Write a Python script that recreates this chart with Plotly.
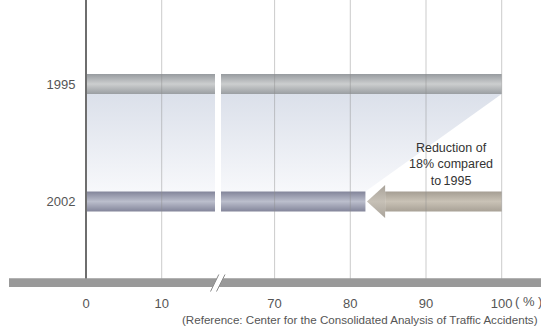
import plotly.graph_objects as go

# ---- data ----
years = ["1995", "2002"]
values = [100, 82]
left_ticks = [0, 10]
right_ticks = [70, 80, 90, 100]
annotation_text = "Reduction of<br>18% compared<br>to\u20091995"
source_text = "(Reference: Center for the Consolidated Analysis of Traffic Accidents)"

W, H = 541, 329
S = 7.57          # px per unit
X0PX = 86         # pixel of value 0
X100PX = 501.7    # pixel of value 100
PLOT_BOTTOM = 283
FONT = "Liberation Sans, Arial, sans-serif"

ypos = [1, 0]
unit = 117.5
y_top = 1 + 84 / unit
y_bot = -(PLOT_BOTTOM - 201.5) / unit
h = 10 / unit

left_range = [(10 - X0PX) / S, (215 - X0PX) / S]
right_range = [100 - (X100PX - 221) / S, 100 + (W - X100PX) / S]

bar_scales = [
    [[0, "#9a9ea2"], [0.5, "#cccecf"], [1, "#979b9f"]],
    [[0, "#83859a"], [0.5, "#bbbecc"], [1, "#828499"]],
]

fig = go.Figure()

for xa in ["x", "x2"]:
    # shaded reduction region between bars
    y1 = ypos[0] - h
    y2 = ypos[1] + h
    fig.add_trace(go.Scatter(
        x=[0, values[0], values[1], 0, 0],
        y=[y1, y1, y2, y2, y1],
        fill="toself", mode="lines", line=dict(width=0),
        fillgradient=dict(type="vertical",
                          colorscale=[[0, "#f7f8fb"], [1, "#dbe0ea"]]),
        xaxis=xa, yaxis="y", hoverinfo="skip", showlegend=False))
    # bars
    for i, (yr, v) in enumerate(zip(years, values)):
        yc = ypos[i]
        fig.add_trace(go.Scatter(
            x=[0, v, v, 0, 0],
            y=[yc - h, yc - h, yc + h, yc + h, yc - h],
            fill="toself", mode="lines", line=dict(width=0),
            fillgradient=dict(type="vertical", colorscale=bar_scales[i]),
            xaxis=xa, yaxis="y", name=yr, showlegend=False))

# arrow from 1995 level to 2002 level
tip = values[1] + 0.2
base = tip + 2.4
hh = 16.5 / unit
yc = ypos[1]
fig.add_trace(go.Scatter(
    x=[values[0], base, base, values[0], values[0]],
    y=[yc - h, yc - h, yc + h, yc + h, yc - h],
    fill="toself", mode="lines", line=dict(width=0),
    fillgradient=dict(type="vertical",
                      colorscale=[[0, "#a8a196"], [0.5, "#c9c2b6"], [1, "#a59e93"]]),
    xaxis="x2", yaxis="y", hoverinfo="skip", showlegend=False))
fig.add_trace(go.Scatter(
    x=[base, tip, base, base],
    y=[yc - hh, yc, yc + hh, yc - hh],
    fill="toself", mode="lines", line=dict(width=0),
    fillgradient=dict(type="vertical",
                      colorscale=[[0, "#a9a39a"], [0.5, "#c6c0b6"], [1, "#a9a39a"]]),
    xaxis="x2", yaxis="y", hoverinfo="skip", showlegend=False))

shapes = []
# gridlines (drawn over bars, translucent)
for t in left_ticks[1:]:
    shapes.append(dict(type="line", xref="x", yref="paper", x0=t, x1=t, y0=0, y1=1,
                       line=dict(color="rgba(140,140,140,0.45)", width=1), layer="above"))
for t in right_ticks:
    shapes.append(dict(type="line", xref="x2", yref="paper", x0=t, x1=t, y0=0, y1=1,
                       line=dict(color="rgba(140,140,140,0.45)", width=1), layer="above"))

def py(p):
    return (PLOT_BOTTOM - p) / PLOT_BOTTOM

def px(p):
    return p / W

# axis bar
shapes.append(dict(type="rect", xref="paper", yref="paper",
                   x0=px(9), x1=1, y0=py(287), y1=py(278.3),
                   fillcolor="#999999", line=dict(width=0), layer="above"))
# break marks
shapes.append(dict(type="path", xref="paper", yref="paper",
                   path=f"M {px(210.5)} {py(291.5)} L {px(218.8)} {py(274.5)} L {px(225)} {py(274.5)} L {px(216.5)} {py(291.5)} Z",
                   fillcolor="white", line=dict(width=0), layer="above"))
for a, b in [((210.5, 291.5), (218.8, 274.5)), ((216.5, 291.5), (225, 274.5))]:
    shapes.append(dict(type="line", xref="paper", yref="paper",
                       x0=px(a[0]), y0=py(a[1]), x1=px(b[0]), y1=py(b[1]),
                       line=dict(color="#8a8a8a", width=1), layer="above"))

axis_font = dict(family=FONT, size=13, color="#555555")

fig.update_layout(
    width=W, height=H,
    margin=dict(l=0, r=0, t=0, b=H - PLOT_BOTTOM, pad=0),
    paper_bgcolor="white", plot_bgcolor="white",
    showlegend=False,
    xaxis=dict(domain=[10 / W, 215 / W], range=left_range, anchor="y",
               tickmode="array", tickvals=left_ticks, ticktext=[str(t) for t in left_ticks],
               showgrid=False, zeroline=False, showline=False, ticks="",
               tickfont=axis_font, ticklabelstandoff=11, fixedrange=True),
    xaxis2=dict(domain=[221 / W, 1], range=right_range, anchor="y",
                tickmode="array", tickvals=right_ticks, ticktext=[str(t) for t in right_ticks],
                showgrid=False, zeroline=False, showline=False, ticks="",
                tickfont=axis_font, ticklabelstandoff=11, fixedrange=True),
    yaxis=dict(range=[y_bot, y_top], anchor="free", position=X0PX / W,
               tickmode="array", tickvals=ypos, ticktext=years,
               showgrid=False, zeroline=False, showline=True,
               linecolor="#6e6e6e", linewidth=2, ticks="",
               tickfont=axis_font, ticklabelstandoff=7, fixedrange=True),
    shapes=shapes,
    annotations=[
        dict(text=annotation_text, xref="x2", yref="paper", x=93.3, y=py(164),
             showarrow=False, font=dict(family=FONT, size=12.5, color="#333333"),
             align="center", xanchor="center", yanchor="middle"),
        dict(text="( % )", xref="paper", yref="paper", x=px(513), y=py(301.5),
             showarrow=False, font=axis_font, xanchor="left", yanchor="middle"),
        dict(text=source_text, xref="paper", yref="paper", x=px(540), y=py(319.5),
             showarrow=False, font=dict(family=FONT, size=11.6, color="#555555"),
             xanchor="right", yanchor="middle"),
    ],
)

fig.write_html("out.html")
